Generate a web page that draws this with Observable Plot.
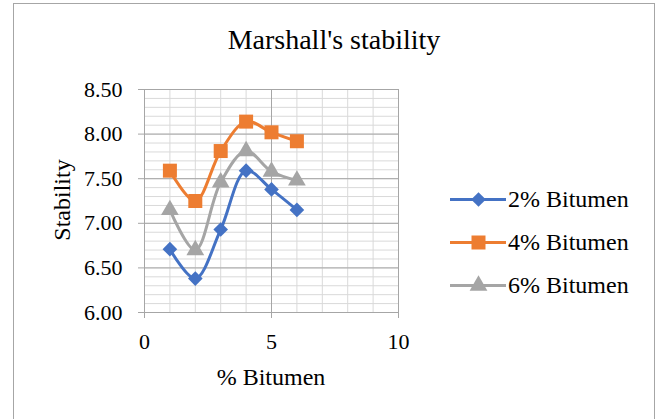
<!DOCTYPE html>
<html>
<head>
<meta charset="utf-8">
<script src="https://cdn.jsdelivr.net/npm/d3@7"></script>
<script src="https://cdn.jsdelivr.net/npm/@observablehq/plot@0.6"></script>
<style>
  html, body { margin: 0; padding: 0; background: #fff; }
  #wrap { position: relative; width: 659px; height: 419px; overflow: hidden; font-family: "Liberation Serif", "Times New Roman", serif; color: #000; }
  #border { position: absolute; left: 13px; top: 3px; width: 642px; height: 430px; border: 1px solid #a6a6a6; box-sizing: border-box; }
  #title { position: absolute; left: 0; width: 668px; top: 25px; text-align: center; font-size: 28px; line-height: 30px; }
  #chart { position: absolute; left: 0; top: 0; }
  #ylab { position: absolute; left: 62px; top: 200px; transform: translate(-50%, -50%) rotate(-90deg); font-size: 24px; white-space: nowrap; line-height: 26px; }
  #xlab { position: absolute; left: 271px; top: 377px; transform: translate(-50%, -50%); font-size: 24px; white-space: nowrap; line-height: 26px; }
  .leg { position: absolute; left: 450px; height: 30px; display: flex; align-items: center; font-size: 24px; }
  .leg svg { margin-right: 2px; }
</style>
</head>
<body>
<div id="wrap">
  <div id="border"></div>
  <div id="chart"></div>
  <div id="title">Marshall's stability</div>
  <div id="ylab">Stability</div>
  <div id="xlab">% Bitumen</div>
  <div id="legend"></div>
</div>
<script>
const xValues = [1, 2, 3, 4, 5, 6];
const series = ["2% Bitumen", "4% Bitumen", "6% Bitumen"];
const stability2 = [6.71, 6.38, 6.93, 7.59, 7.38, 7.15];
const stability4 = [7.59, 7.25, 7.81, 8.14, 8.02, 7.92];
const stability6 = [7.15, 6.70, 7.46, 7.81, 7.58, 7.48];
const colors = ["#4472C4", "#ED7D31", "#A5A5A5"];
const symbols = ["diamond2", "square", "triangle"];
const radii = [6.6, 7.9, 6.6];
const yTicks = [6.0, 6.5, 7.0, 7.5, 8.0, 8.5];
const xTicks = [0, 5, 10];

const allValues = [stability2, stability4, stability6];
const data = [];
series.forEach((s, i) => xValues.forEach((x, j) => data.push({series: s, x, y: allValues[i][j]})));

const minorY = d3.range(60, 86, 1).map(v => v / 10);
const minorX = d3.range(0, 11, 1);

const chart = Plot.plot({
  width: 659,
  height: 419,
  marginLeft: 144,
  marginRight: 261,
  marginTop: 89,
  marginBottom: 107,
  style: {fontFamily: "Liberation Serif, Times New Roman, serif", fontSize: "22px", color: "#000", background: "transparent"},
  x: {domain: [0, 10]},
  y: {domain: [6, 8.5]},
  color: {domain: series, range: colors},
  symbol: {domain: series, range: symbols},
  marks: [
    Plot.gridY(minorY, {stroke: "#d9d9d9", strokeOpacity: 1, strokeWidth: 1}),
    Plot.gridX(minorX, {stroke: "#d9d9d9", strokeOpacity: 1, strokeWidth: 1}),
    Plot.gridY(yTicks, {stroke: "#a6a6a6", strokeOpacity: 1, strokeWidth: 1}),
    Plot.gridX(xTicks, {stroke: "#a6a6a6", strokeOpacity: 1, strokeWidth: 1}),
    Plot.axisY({ticks: yTicks, tickFormat: d3.format(".2f"), tickSize: 6, tickPadding: 16, stroke: "#a6a6a6", fill: "#000", fontSize: 22, label: null}),
    Plot.axisX({ticks: xTicks, tickSize: 6, tickPadding: 15, stroke: "#a6a6a6", fill: "#000", fontSize: 22, label: null}),
    Plot.ruleY([6], {stroke: "#a6a6a6"}),
    Plot.ruleX([0], {stroke: "#a6a6a6"}),
    Plot.line(data, {x: "x", y: "y", z: "series", stroke: "series", strokeWidth: 3, curve: "catmull-rom"}),
    Plot.dot(data.filter(d => d.series === series[0]), {x: "x", y: "y", symbol: "series", fill: "series", r: radii[0], stroke: "none"}),
    Plot.dot(data.filter(d => d.series === series[1]), {x: "x", y: "y", symbol: "series", fill: "series", r: radii[1], stroke: "none"}),
    Plot.dot(data.filter(d => d.series === series[2]), {x: "x", y: "y", symbol: "series", fill: "series", r: radii[2], stroke: "none"})
  ]
});
document.getElementById("chart").appendChild(chart);

// Legend
const legend = document.getElementById("legend");
const legTops = [184, 227, 270];
series.forEach((s, i) => {
  const row = document.createElement("div");
  row.className = "leg";
  row.style.top = legTops[i] + "px";
  const sw = Plot.plot({
    width: 56, height: 30, margin: 0,
    x: {domain: [0, 1], axis: null},
    y: {domain: [0, 1], axis: null},
    style: {background: "transparent"},
    marks: [
      Plot.ruleY([0.5], {x1: 0, x2: 1, stroke: colors[i], strokeWidth: 3}),
      Plot.dot([{x: 0.5, y: 0.5}], {x: "x", y: "y", symbol: symbols[i], fill: colors[i], r: radii[i]})
    ]
  });
  row.appendChild(sw);
  const t = document.createElement("span");
  t.textContent = s;
  row.appendChild(t);
  legend.appendChild(row);
});
</script>
</body>
</html>
